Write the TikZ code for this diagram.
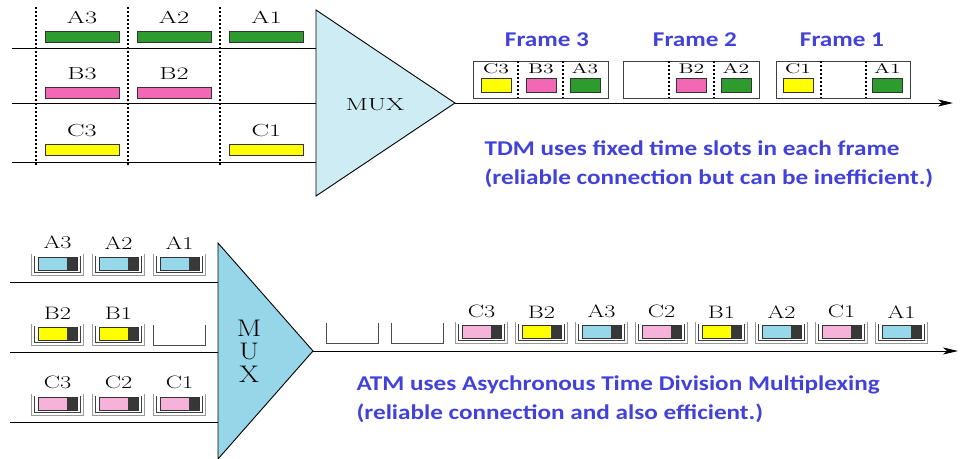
\documentclass[tikz,border=0pt]{standalone}
\usepackage{fontspec}
\newfontfamily\notefont{Carlito}
\usetikzlibrary{arrows.meta}

\definecolor{tdmgreen}{RGB}{46,155,46}
\definecolor{tdmpink}{RGB}{242,104,180}
\definecolor{tdmyellow}{RGB}{255,255,0}
\definecolor{muxtop}{RGB}{205,236,243}
\definecolor{muxbottom}{RGB}{150,214,232}
\definecolor{atmblue}{RGB}{151,215,234}
\definecolor{atmpink}{RGB}{247,178,218}
\definecolor{notecolor}{RGB}{66,66,218}

\begin{document}
\begin{tikzpicture}[x=1pt, y=-1pt, line width=0.9pt,
  every node/.style={inner sep=0pt},
  tdmbar/.style={draw=black!80, line width=0.7pt, minimum width=74pt, minimum height=11pt},
  slotbar/.style={draw=black!80, line width=0.7pt, minimum width=30pt, minimum height=14pt},
  atmbar/.style={draw=black!80, line width=0.7pt, minimum width=39pt, minimum height=13pt,
    path picture={\fill[black!78] ([xshift=-10pt]path picture bounding box.north east)
      rectangle (path picture bounding box.south east);}},
  biglabel/.style={font=\fontsize{17.5}{17.5}\selectfont, xscale=1.5},
  slotlabel/.style={font=\fontsize{14}{14}\selectfont, xscale=1.55},
  atmlabel/.style={font=\fontsize{18}{18}\selectfont, xscale=1.35},
  note/.style={font=\notefont\bfseries\fontsize{21}{21}\selectfont, xscale=1.2,
    text=notecolor, anchor=west},
  tray/.pic={
    \draw[black!40, line width=0.8pt] (-26,-21) -- (-26,0) -- (26,0) -- (26,-21);
    \draw[black!75, line width=0.8pt] (-23,-19) -- (-23,-3) -- (23,-3) -- (23,-19);
  },
  emptytray/.pic={
    \draw[black!70, line width=0.9pt] (-26,-20) -- (-26,0) -- (26,0) -- (26,-20);
  }]

\useasboundingbox (0,0) rectangle (961,458);

%% TDM part

% Input lines and MUX
\coordinate (tA) at (12,48);  \coordinate (tmA) at (316,48);
\coordinate (tB) at (12,103); \coordinate (tmB) at (316,103);
\coordinate (tC) at (12,162); \coordinate (tmC) at (316,162);
\draw (tA) -- (tmA);
\draw (tB) -- (tmB);
\draw (tC) -- (tmC);

\foreach \x in {36,128,220}
  \draw[dash pattern=on 2pt off 2pt, line width=1.1pt] (\x,7) -- (\x,165);

\draw[fill=muxtop] (316,10) -- (316,196) -- (455,103) -- cycle;
\coordinate (tdmApex) at (455,103);
\coordinate (tdmEnd) at (953,103);
\node[biglabel] (tdmMux) at (375,105) {MUX};
\draw[-{Stealth[length=15pt,width=7pt,inset=4pt]}] (tdmApex) -- (tdmEnd);

% Input slots
\node[tdmbar, fill=tdmgreen] (A3) at (82,36.5) {};
\node[tdmbar, fill=tdmgreen] (A2) at (174,36.5) {};
\node[tdmbar, fill=tdmgreen] (A1) at (266.5,36.5) {};
\node[tdmbar, fill=tdmpink] (B3) at (82,92.5) {};
\node[tdmbar, fill=tdmpink] (B2) at (174,92.5) {};
\node[tdmbar, fill=tdmyellow] (C3) at (82,150) {};
\node[tdmbar, fill=tdmyellow] (C1) at (266.5,150) {};

\foreach \n in {A3,A2,A1,B3,B2,C3,C1}
  \node[biglabel, above=6.5pt] at (\n.north) {\n};

% Frames
\draw[black!75, line width=1pt] (473,61) rectangle (608,98);
\draw[black!75, line width=1pt] (623,61) rectangle (759,98);
\draw[black!75, line width=1pt] (776,61) rectangle (910,98);
\foreach \x in {518,563,669,714,821,866}
  \draw[dash pattern=on 2pt off 2pt, line width=1.1pt] (\x,61) -- (\x,98);

\node[slotbar, fill=tdmyellow] (f3C3) at (496,85) {};
\node[slotbar, fill=tdmpink] (f3B3) at (541,85) {};
\node[slotbar, fill=tdmgreen] (f3A3) at (585,85) {};
\node[slotbar, fill=tdmpink] (f2B2) at (691.5,85) {};
\node[slotbar, fill=tdmgreen] (f2A2) at (736,85) {};
\node[slotbar, fill=tdmyellow] (f1C1) at (798,85) {};
\node[slotbar, fill=tdmgreen] (f1A1) at (887.5,85) {};

\node[slotlabel, above=3.5pt] at (f3C3.north) {C3};
\node[slotlabel, above=3.5pt] at (f3B3.north) {B3};
\node[slotlabel, above=3.5pt] at (f3A3.north) {A3};
\node[slotlabel, above=3.5pt] at (f2B2.north) {B2};
\node[slotlabel, above=3.5pt] at (f2A2.north) {A2};
\node[slotlabel, above=3.5pt] at (f1C1.north) {C1};
\node[slotlabel, above=3.5pt] at (f1A1.north) {A1};

\node[note, anchor=center] (frame3) at (547,40) {Frame 3};
\node[note, anchor=center] (frame2) at (695,40) {Frame 2};
\node[note, anchor=center] (frame1) at (842,40) {Frame 1};

\node[note] (tdmNote1) at (484,148) {TDM uses fixed time slots in each frame};
\node[note] (tdmNote2) at (484,178) {(reliable connection but can be inefficient.)};

%% ATM part

% Input lines and MUX
\coordinate (aA) at (10,282); \coordinate (amA) at (218,282);
\coordinate (aB) at (10,352); \coordinate (amB) at (218,352);
\coordinate (aC) at (10,422); \coordinate (amC) at (218,422);
\draw (aA) -- (amA);
\draw (aB) -- (amB);
\draw (aC) -- (amC);

\draw[fill=muxbottom] (218,243) -- (218,459) -- (313,351) -- cycle;
\coordinate (atmApex) at (313,351);
\coordinate (atmEnd) at (958,351);
\node[font=\fontsize{24}{23}\selectfont, xscale=1.2, align=center] (atmMux) at (249,351) {M\\U\\X};
\draw[-{Stealth[length=15pt,width=7pt,inset=4pt]}] (atmApex) -- (atmEnd);

% Input cells
\foreach \x/\lbl/\col in {57/A3/atmblue,118/A2/atmblue,179/A1/atmblue} {
  \pic at (\x,275) {tray};
  \node[atmbar, fill=\col] (i\lbl) at (\x+0.5,263.5) {};
  \node[atmlabel, above=7pt] at (i\lbl.north) {\lbl};
}
\foreach \x/\lbl/\col in {57/B2/tdmyellow,118/B1/tdmyellow} {
  \pic at (\x,345) {tray};
  \node[atmbar, fill=\col] (i\lbl) at (\x+0.5,333.5) {};
  \node[atmlabel, above=7pt] at (i\lbl.north) {\lbl};
}
\pic at (179,345) {emptytray};
\foreach \x/\lbl/\col in {57/C3/atmpink,118/C2/atmpink,179/C1/atmpink} {
  \pic at (\x,415) {tray};
  \node[atmbar, fill=\col] (i\lbl) at (\x+0.5,403.5) {};
  \node[atmlabel, above=7pt] at (i\lbl.north) {\lbl};
}

% Output cells
\pic at (352,343) {emptytray};
\pic at (417,343) {emptytray};
\foreach \x/\lbl/\col in {481/C3/atmpink,541/B2/tdmyellow,601/A3/atmblue,661/C2/atmpink,
    721/B1/tdmyellow,781/A2/atmblue,841/C1/atmpink,901/A1/atmblue} {
  \pic at (\x,343) {tray};
  \node[atmbar, fill=\col] (o\lbl) at (\x+0.5,331.5) {};
  \node[atmlabel, above=6pt] at (o\lbl.north) {\lbl};
}

\node[note] (atmNote1) at (356,385) {ATM uses Asychronous Time Division Multiplexing};
\node[note] (atmNote2) at (356,413) {(reliable connection and also efficient.)};

\end{tikzpicture}
\end{document}
